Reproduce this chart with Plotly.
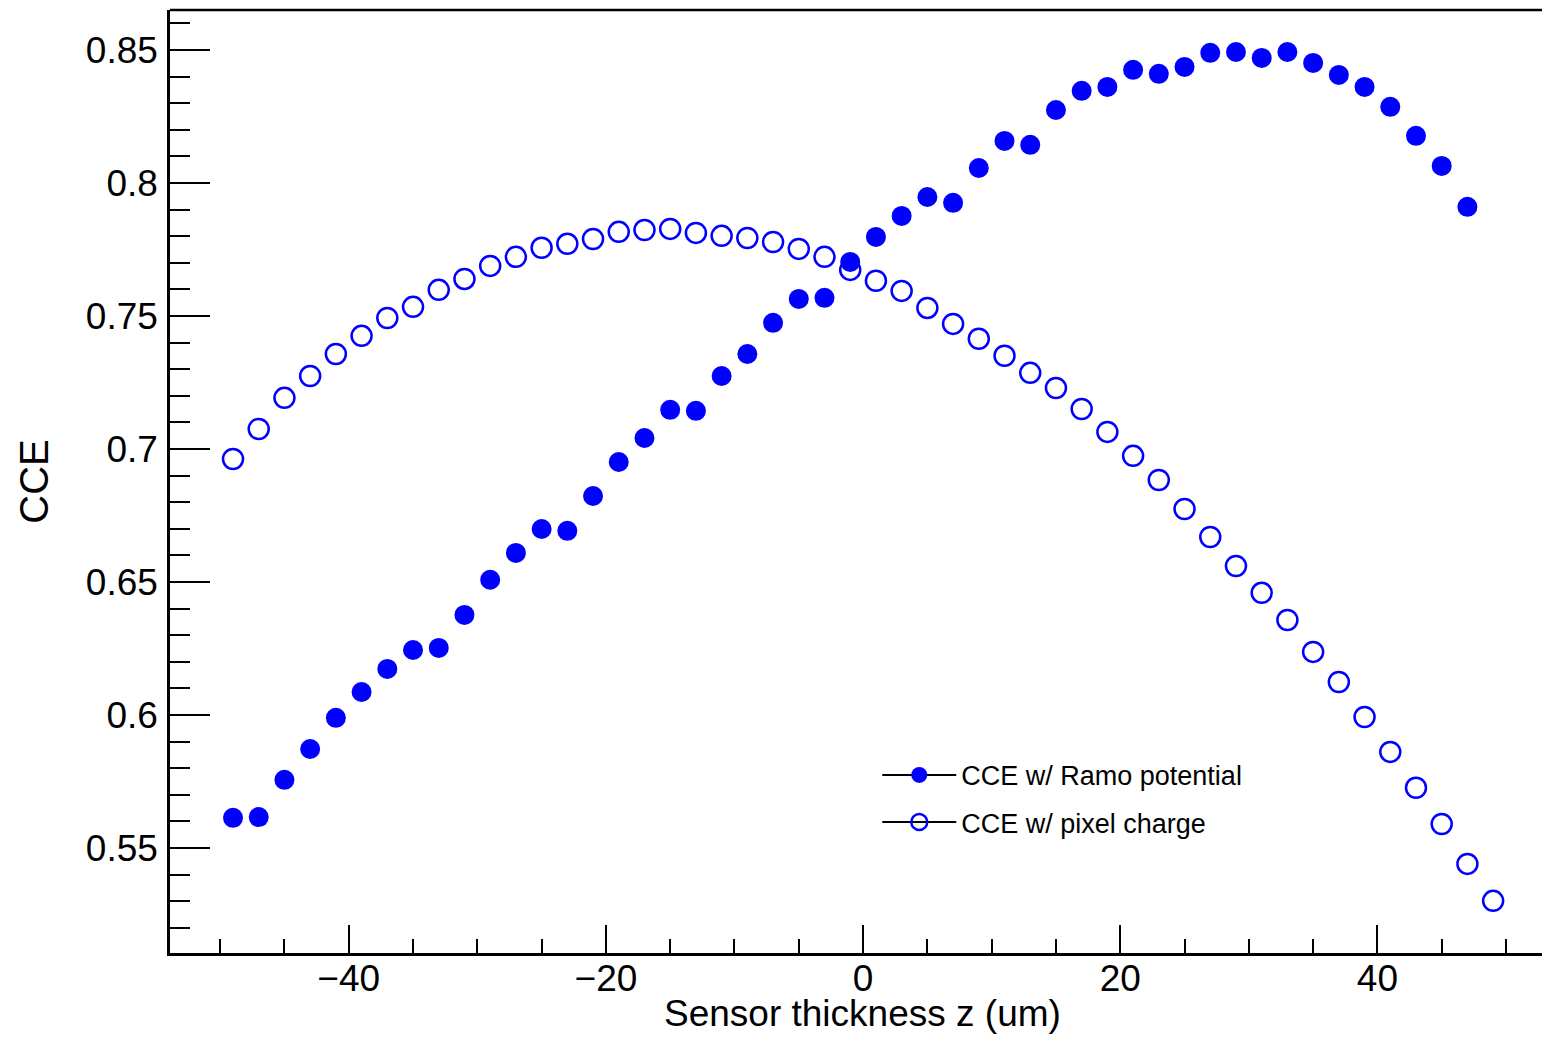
import plotly.graph_objects as go

# Charge collection efficiency versus depth in the sensor
z_ramo = [-49, -47, -45, -43, -41, -39, -37, -35, -33, -31, -29, -27, -25, -23, -21,
          -19, -17, -15, -13, -11, -9, -7, -5, -3, -1, 1, 3, 5, 7, 9, 11, 13, 15, 17,
          19, 21, 23, 25, 27, 29, 31, 33, 35, 37, 39, 41, 43, 45, 47]
cce_ramo = [0.5613, 0.5616, 0.5756, 0.5872, 0.5989, 0.6086, 0.6173, 0.6244, 0.6252,
            0.6376, 0.6508, 0.6609, 0.6699, 0.6692, 0.6823, 0.6951, 0.7041, 0.7147,
            0.7143, 0.7274, 0.7357, 0.7474, 0.7564, 0.7568, 0.7703, 0.7797, 0.7876,
            0.7947, 0.7925, 0.8056, 0.8158, 0.8143, 0.8274, 0.8346, 0.8361, 0.8425,
            0.8410, 0.8436, 0.8489, 0.8492, 0.8470, 0.8492, 0.8451, 0.8406, 0.8361,
            0.8286, 0.8177, 0.8064, 0.7910]

z_pixel = [-49, -47, -45, -43, -41, -39, -37, -35, -33, -31, -29, -27, -25, -23, -21,
           -19, -17, -15, -13, -11, -9, -7, -5, -3, -1, 1, 3, 5, 7, 9, 11, 13, 15, 17,
           19, 21, 23, 25, 27, 29, 31, 33, 35, 37, 39, 41, 43, 45, 47, 49]
cce_pixel = [0.6962, 0.7075, 0.7192, 0.7274, 0.7357, 0.7425, 0.7492, 0.7534, 0.7598,
             0.7639, 0.7688, 0.7722, 0.7756, 0.7771, 0.7789, 0.7816, 0.7823, 0.7827,
             0.7812, 0.7801, 0.7793, 0.7778, 0.7752, 0.7722, 0.7673, 0.7632, 0.7594,
             0.7530, 0.7470, 0.7414, 0.7350, 0.7286, 0.7229, 0.7150, 0.7064, 0.6974,
             0.6883, 0.6774, 0.6669, 0.6560, 0.6459, 0.6357, 0.6237, 0.6124, 0.5992,
             0.5861, 0.5726, 0.5590, 0.5440, 0.5301]

x_tick_vals = [-40, -20, 0, 20, 40]
x_tick_text = ["\u221240", "\u221220", "0", "20", "40"]
y_tick_vals = [0.55, 0.60, 0.65, 0.70, 0.75, 0.80, 0.85]
y_tick_text = ["0.55", "0.6", "0.65", "0.7", "0.75", "0.8", "0.85"]

x_title = "Sensor thickness z (um)"
y_title = "CCE"
label_ramo = "CCE w/ Ramo potential"
label_pixel = "CCE w/ pixel charge"

BLUE = "#0000ff"
FONT = "Liberation Sans, Arial, Helvetica, sans-serif"

fig = go.Figure()

fig.add_trace(go.Scatter(
    x=z_ramo, y=cce_ramo, mode="markers", showlegend=False,
    marker=dict(symbol="circle", size=20, color=BLUE, line=dict(width=0)),
))
fig.add_trace(go.Scatter(
    x=z_pixel, y=cce_pixel, mode="markers", showlegend=False,
    marker=dict(symbol="circle-open", size=20, color=BLUE, line=dict(width=2.5, color=BLUE)),
))

# Legend entries: black line with blue marker
fig.add_trace(go.Scatter(
    x=[None], y=[None], mode="lines+markers", name=label_ramo, legendgroup="a",
    line=dict(color="black", width=2),
    marker=dict(symbol="circle", size=18, color=BLUE),
))
fig.add_trace(go.Scatter(
    x=[None], y=[None], mode="lines+markers", name=label_pixel, legendgroup="b",
    line=dict(color="black", width=2),
    marker=dict(symbol="circle-open", size=18, color=BLUE, line=dict(width=2.5, color=BLUE)),
))

axis_common = dict(
    showgrid=False, zeroline=False, showline=True, linecolor="black", linewidth=2.5,
    ticks="inside", tickcolor="black", tickwidth=2, automargin=False,
    tickfont=dict(family=FONT, size=37, color="black"),
)

fig.update_xaxes(
    **axis_common,
    range=[-53.9, 52.8], tickmode="array", tickvals=x_tick_vals, ticktext=x_tick_text,
    ticklen=28, ticklabelstandoff=-9,
    minor=dict(ticks="inside", dtick=5, tick0=0, ticklen=14, tickwidth=2, tickcolor="black"),
)
fig.update_yaxes(
    **axis_common,
    range=[0.5105, 0.8650], tickmode="array", tickvals=y_tick_vals, ticktext=y_tick_text,
    ticklen=40, ticklabelstandoff=2,
    minor=dict(ticks="inside", dtick=0.01, tick0=0.5, ticklen=20, tickwidth=2, tickcolor="black"),
    title=dict(text=y_title, font=dict(family=FONT, size=40, color="black"), standoff=25),
)

# x-axis title, placed below the tick labels
fig.add_annotation(
    text=x_title, xref="paper", yref="paper", x=0.5044, y=-0.0415,
    xanchor="center", yanchor="top", showarrow=False, borderpad=0,
    font=dict(family=FONT, size=37, color="black"),
)

# Frame line along the top of the plot area
fig.add_shape(type="line", xref="paper", yref="paper", x0=0, x1=1, y0=1, y1=1,
              line=dict(color="black", width=2.5))

fig.update_layout(
    width=1542, height=1039,
    margin=dict(l=170, r=0, t=10, b=86),
    plot_bgcolor="white", paper_bgcolor="white",
    font=dict(family=FONT, color="black"),
    legend=dict(
        x=0.5155, y=0.2143, xanchor="left", yanchor="top",
        bgcolor="rgba(0,0,0,0)", borderwidth=0,
        font=dict(family=FONT, size=27, color="black"),
        itemwidth=74, tracegroupgap=9,
    ),
)

fig.write_html("out.html")
